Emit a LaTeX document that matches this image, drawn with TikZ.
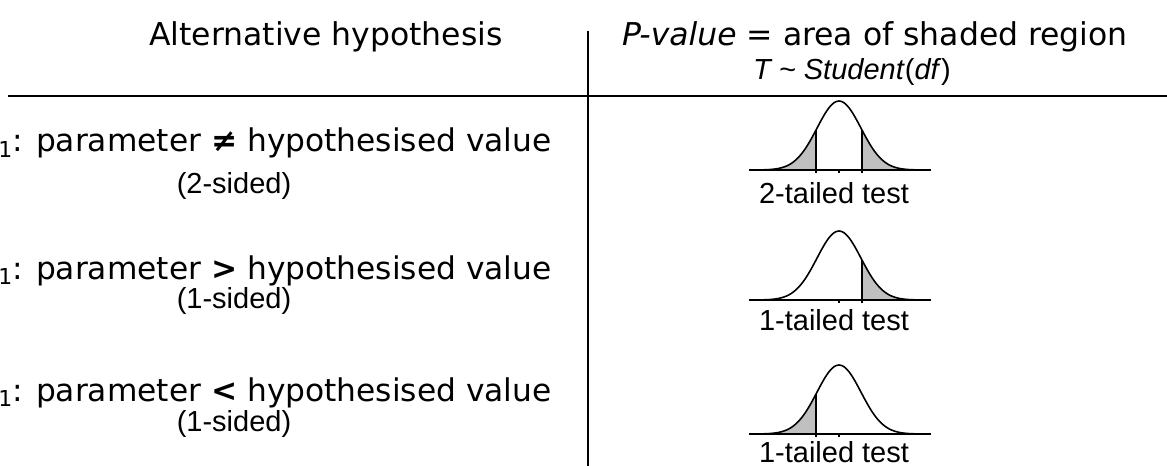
\documentclass[tikz,border=0pt]{standalone}
\usepackage{fontspec}
\setmainfont{DejaVu Sans}
\newfontfamily\arialfont{Liberation Sans}
\usetikzlibrary{positioning}
\definecolor{tailGray}{HTML}{C0C0C0}
\newcommand{\hsub}{\raisebox{-3.2pt}{\fontsize{12.5}{12.5}\selectfont 1}}

\begin{document}
\begin{tikzpicture}[x=0.02cm, y=-0.02cm,
  head/.style={font=\fontsize{17.9}{20}\selectfont, anchor=base, inner sep=0pt},
  alt/.style={font=\fontsize{17.8}{20}\selectfont, anchor=base east, inner sep=0pt},
  side/.style={font=\arialfont\fontsize{16.5}{18}\selectfont, anchor=base, inner sep=0pt},
  rule/.style={line width=1.1pt},
  bell/.style={line width=0.9pt},
  tail/.style={fill=tailGray}]
\useasboundingbox (0,0) rectangle (1167,466);
% headings
\node[head] (althead) at (326,46) {Alternative hypothesis};
\node[head] (phead) at (875,46) {\textit{P-value} = area of shaded region};
\node[side] (dist) at (852,80) {\textit{T \textasciitilde{} Student}(\textit{df})};
% table rules
\coordinate (hl) at (8,96);
\coordinate (hr) at (1167,96);
\coordinate (vt) at (588,31);
\coordinate (vb) at (588,466);
\draw[rule] (hl) -- (hr);
\draw[rule] (vt) -- (vb);
% alternatives
\node[alt] (alt1) at (552,152) {\hsub: parameter \textbf{≠} hypothesised value};
\node[side] (side1) at (234,194) {(2-sided)};
\node[alt] (alt2) at (552,279) {\hsub: parameter \textbf{>} hypothesised value};
\node[side] (side2) at (234,308) {(1-sided)};
\node[alt] (alt3) at (552,401) {\hsub: parameter \textbf{<} hypothesised value};
\node[side] (side3) at (234,431) {(1-sided)};
% 2-tailed
\fill[tail] (816,170) -- plot[domain=-23:-75, samples=20, smooth] ({839+\x},{170-69*exp(-(\x*\x)/968)}) -- cycle;
\fill[tail] (862,170) -- plot[domain=23:75, samples=20, smooth] ({839+\x},{170-69*exp(-(\x*\x)/968)}) -- cycle;
\draw[bell] plot[domain=-75:75, samples=61, smooth] ({839+\x},{170-69*exp(-(\x*\x)/968)});
\draw[bell] (749,170) -- (931,170);
\draw[bell] (816,173) -- (816,130) (862,173) -- (862,130) (839,170) -- (839,173);
\node[side] (test1) at (834,203) {2-tailed test};
% 1-tailed, upper
\fill[tail] (862,300) -- plot[domain=23:75, samples=20, smooth] ({839+\x},{300-69*exp(-(\x*\x)/968)}) -- cycle;
\draw[bell] plot[domain=-75:75, samples=61, smooth] ({839+\x},{300-69*exp(-(\x*\x)/968)});
\draw[bell] (749,300) -- (931,300);
\draw[bell] (862,303) -- (862,260) (839,300) -- (839,303);
\node[side] (test2) at (834,330) {1-tailed test};
% 1-tailed, lower
\fill[tail] (816,434) -- plot[domain=-23:-75, samples=20, smooth] ({839+\x},{434-69*exp(-(\x*\x)/968)}) -- cycle;
\draw[bell] plot[domain=-75:75, samples=61, smooth] ({839+\x},{434-69*exp(-(\x*\x)/968)});
\draw[bell] (749,434) -- (931,434);
\draw[bell] (816,437) -- (816,394) (839,434) -- (839,437);
\node[side] (test3) at (834,462) {1-tailed test};
\end{tikzpicture}
\end{document}
